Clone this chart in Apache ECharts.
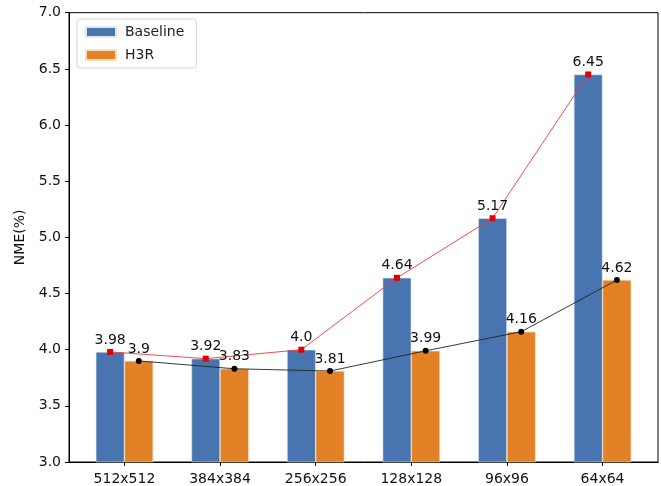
<!DOCTYPE html>
<html><head><meta charset="utf-8">
<script src="https://cdn.jsdelivr.net/npm/echarts@6/dist/echarts.min.js"></script>
<style>html,body{margin:0;padding:0;background:#fff}#c{width:661px;height:486px}</style>
</head><body><div id="c"></div>
<script>
const categories = ['512x512','384x384','256x256','128x128','96x96','64x64'];
const baseline = [3.98, 3.92, 4.0, 4.64, 5.17, 6.45];
const h3r = [3.9, 3.83, 3.81, 3.99, 4.16, 4.62];
const yTicks = [3.0, 3.5, 4.0, 4.5, 5.0, 5.5, 6.0, 6.5, 7.0];

const BAR_W = 0.3; // bar width in category units
const font = 'DejaVu Sans';
const chart = echarts.init(document.getElementById('c'));
const idx = categories.map((_, i) => i);
const barData = arr => arr.map((v, i) => [i, v]);
const lineData = (arr, off) => arr.map((v, i) => [i + off, v]);
const pyStr = v => Number.isInteger(v) ? v.toFixed(1) : String(v);

chart.setOption({
  animation: false,
  grid: { left: 69, right: 3, top: 12.7, bottom: 24, containLabel: false,
          show: true, borderColor: '#000', borderWidth: 1 },
  legend: {
    data: ['Baseline', 'H3R'], orient: 'vertical', left: 77, top: 19,
    itemWidth: 30, itemHeight: 10, itemGap: 9, icon: 'rect',
    backgroundColor: '#fff', borderColor: '#d5d5d5', borderWidth: 1, borderRadius: 3,
    padding: [6, 12, 6, 8],
    textStyle: { fontFamily: font, fontSize: 14, color: '#222', padding: [0,0,0,4] }
  },
  xAxis: {
    type: 'value', min: -0.58, max: 5.58,
    splitLine: { show: false },
    axisLine: { show: true, onZero: false, lineStyle: { color: '#000' } },
    axisTick: { show: true, customValues: idx, length: 4, lineStyle: { color: '#000' } },
    axisLabel: { customValues: idx, formatter: v => categories[Math.round(v)],
                 fontFamily: font, fontSize: 14, color: '#111', margin: 10 }
  },
  yAxis: {
    type: 'value', min: 3, max: 7, interval: 0.5,
    name: 'NME(%)', nameLocation: 'middle', nameGap: 42, nameRotate: 90,
    nameTextStyle: { fontFamily: font, fontSize: 14, color: '#111' },
    splitLine: { show: false },
    axisLine: { show: true, onZero: false, lineStyle: { color: '#000' } },
    axisTick: { show: true, length: 4, lineStyle: { color: '#000' } },
    axisLabel: { customValues: yTicks, formatter: v => v.toFixed(1), fontFamily: font, fontSize: 14, color: '#111', margin: 8 }
  },
  series: [
    { name: 'Baseline', type: 'bar', data: barData(baseline), barWidth: 28.7, barGap: '0%',
      itemStyle: { color: '#4875b0', borderColor: '#dfe7f2', borderWidth: 0.6 } },
    { name: 'H3R', type: 'bar', data: barData(h3r), barWidth: 28.7, barGap: '0%',
      itemStyle: { color: '#e28125', borderColor: '#f6dcc2', borderWidth: 0.6 } },
    { name: 'Baseline trend', type: 'line', data: lineData(baseline, -BAR_W / 2),
      symbol: 'rect', symbolSize: 6, z: 5,
      lineStyle: { color: '#f03a3a', width: 0.9 }, itemStyle: { color: '#e00000' },
      label: { show: true, position: 'top', distance: 2, formatter: p => pyStr(p.value[1]),
               fontFamily: font, fontSize: 14, color: '#111' } },
    { name: 'H3R trend', type: 'line', data: lineData(h3r, BAR_W / 2),
      symbol: 'circle', symbolSize: 6, z: 5,
      lineStyle: { color: '#222', width: 0.9 }, itemStyle: { color: '#000' },
      label: { show: true, position: 'top', distance: 2, formatter: p => pyStr(p.value[1]),
               fontFamily: font, fontSize: 14, color: '#111' } }
  ]
});
</script></body></html>
